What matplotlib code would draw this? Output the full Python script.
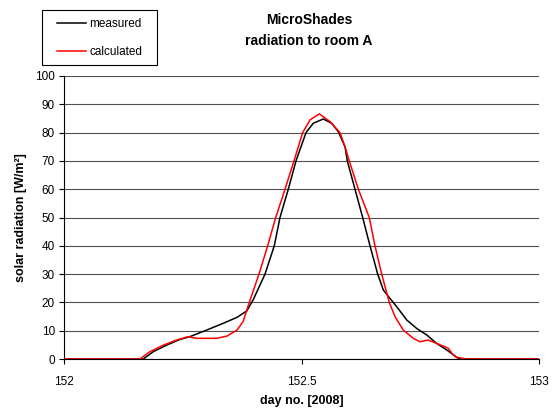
import numpy as np
import matplotlib.pyplot as plt
from matplotlib.patches import Rectangle

plt.rcParams['font.family'] = ['Liberation Sans', 'DejaVu Sans']

# measured radiation
day_meas = [152.0, 152.167, 152.188, 152.216, 152.244, 152.265, 152.300, 152.335,
            152.364, 152.385, 152.3985, 152.4232, 152.4427, 152.4547, 152.4722, 152.4884,
            152.5095, 152.5248, 152.5459, 152.5636, 152.5775, 152.5916, 152.5964, 152.6126,
            152.6288, 152.6442, 152.6604, 152.6722, 152.6863, 152.7004, 152.7215, 152.7425,
            152.7636, 152.7846, 152.8057, 152.8301, 152.835, 153.0]
rad_meas = [0, 0, 2.6, 4.9, 6.9, 7.9, 10.2, 12.6,
            14.7, 17, 21, 30, 40, 50, 60, 70,
            80, 83.3, 84.8, 83.3, 80.3, 75, 70, 60,
            50, 40, 30, 24.4, 21.4, 18.5, 13.8, 10.8,
            8.5, 5.5, 3.2, 0.2, 0, 0]

# calculated radiation
day_calc = [152.0, 152.160, 152.181, 152.209, 152.237, 152.262, 152.279, 152.321,
            152.343, 152.364, 152.377, 152.3901, 152.4105, 152.4288, 152.4457, 152.4653,
            152.4842, 152.5025, 152.518, 152.5375, 152.56, 152.581, 152.5916, 152.6006,
            152.6196, 152.6427, 152.6547, 152.6688, 152.6848, 152.6968, 152.7143, 152.7354,
            152.7495, 152.767, 152.7846, 152.809, 152.8196, 152.8267, 152.8478, 153.0]
rad_calc = [0, 0, 2.6, 4.9, 6.7, 7.9, 7.3, 7.3,
            8.1, 10.2, 13.2, 20, 30, 40, 50, 60,
            70, 80, 84.5, 86.6, 83.9, 80, 75, 70,
            60, 50, 40, 30, 20, 15, 10.2, 7.3,
            6.1, 6.7, 5.5, 3.8, 1.4, 0.6, 0, 0]

fig = plt.figure(figsize=(5.55, 4.08), dpi=100)
ax = fig.add_axes([64 / 555, 1 - 359 / 408, 475 / 555, 283 / 408])

ax.plot(day_meas, rad_meas, color='black', lw=1.1, label='measured', zorder=3)
ax.plot(day_calc, rad_calc, color='red', lw=1.1, label='calculated', zorder=4)

ax.set_xlim(152, 153)
ax.set_ylim(0, 100)
ax.set_xticks([152, 152.5, 153])
ax.set_xticklabels(['152', '152.5', '153'])
ax.set_yticks(np.arange(0, 101, 10))
ax.yaxis.grid(True, color='#505050', lw=0.8)
ax.set_axisbelow(True)
ax.spines['top'].set_visible(False)
ax.spines['right'].set_visible(False)
ax.tick_params(direction='out', length=3.5, labelsize=8.5, color='black')
ax.tick_params(axis='x', pad=9)
ax.tick_params(axis='y', pad=3)

ax.set_xlabel('day no. [2008]', fontsize=9, fontweight='bold', labelpad=5)
ax.set_ylabel('solar radiation [W/m²]', fontsize=9, fontweight='bold', labelpad=6)

fig.text(309 / 555, 1 - 20 / 408, 'MicroShades', ha='center', va='center',
         fontsize=10, fontweight='bold')
fig.text(309 / 555, 1 - 41 / 408, 'radiation to room A', ha='center', va='center',
         fontsize=10, fontweight='bold')

# legend box
fig.patches.append(Rectangle((42 / 555, 1 - 65 / 408), 115 / 555, 55 / 408,
                             transform=fig.transFigure, fill=False,
                             edgecolor='black', lw=0.8))
fig.legend(loc='center', bbox_to_anchor=(99.5 / 555, 1 - 38 / 408),
           fontsize=8.5, frameon=False, labelspacing=1.3, handlelength=2.45,
           handletextpad=0.3, borderpad=0, borderaxespad=0)

fig.savefig('out.png', dpi=100)
